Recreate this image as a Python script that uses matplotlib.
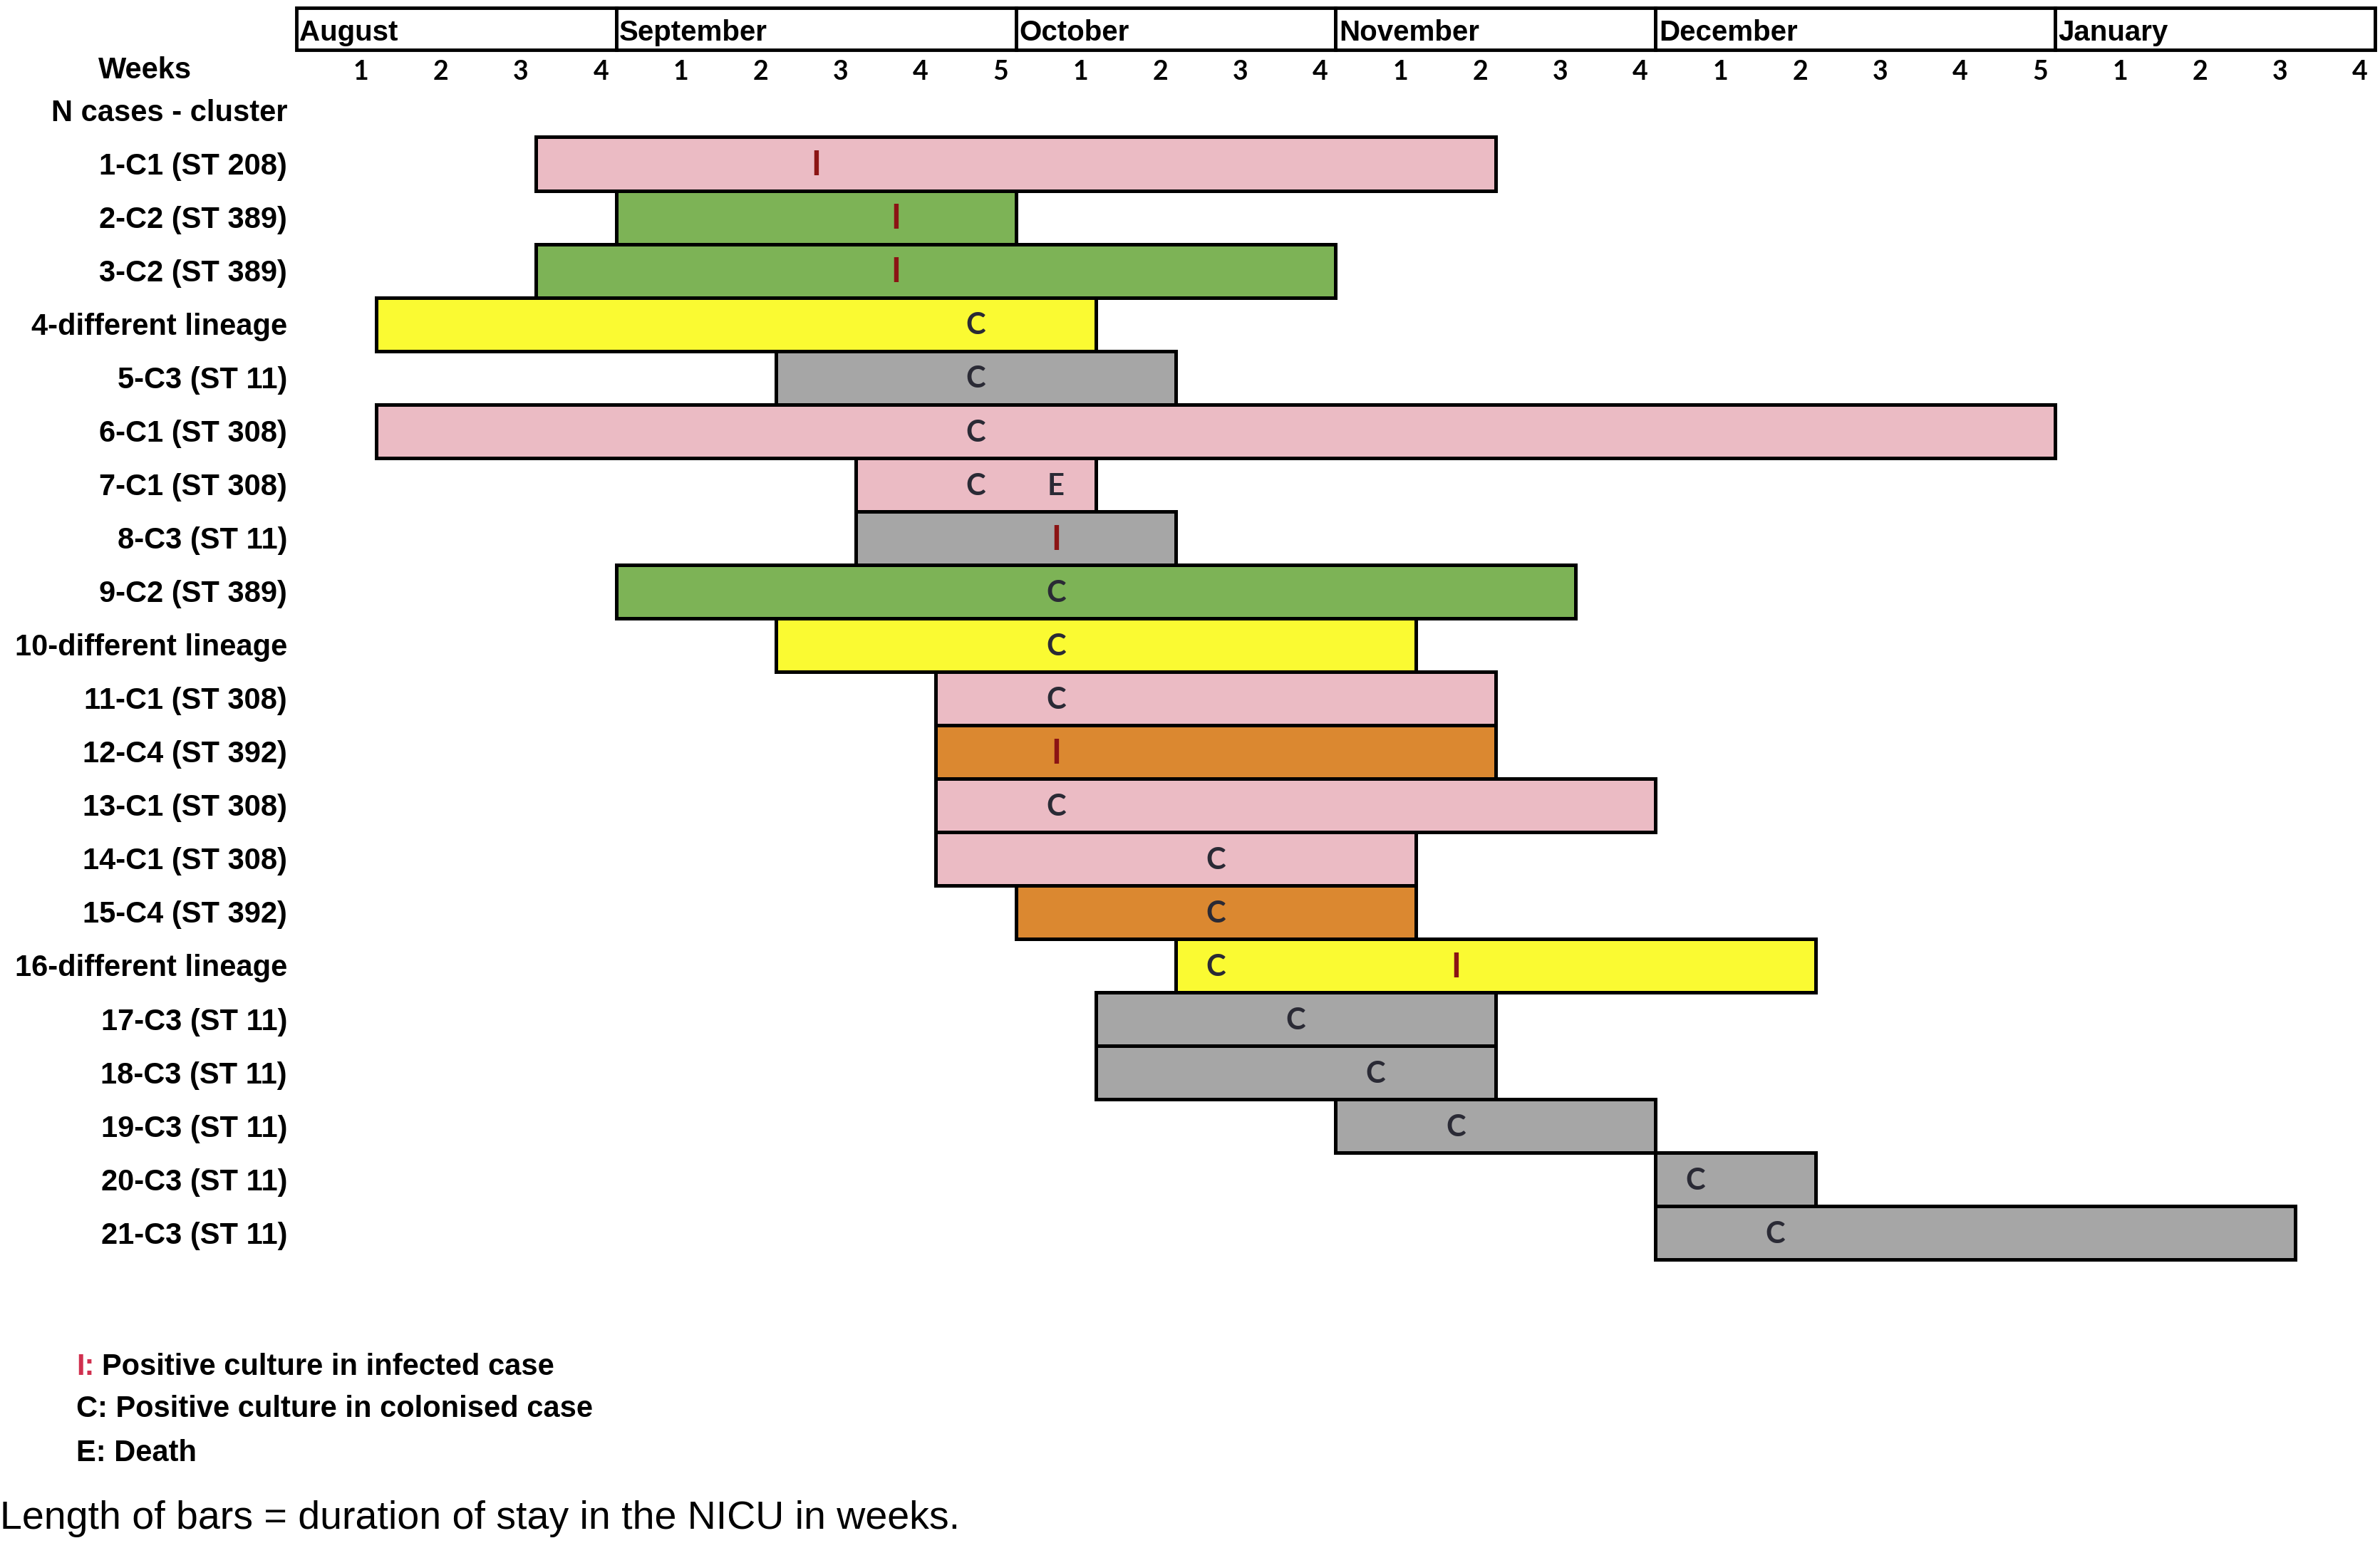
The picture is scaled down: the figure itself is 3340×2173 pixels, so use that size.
import matplotlib
matplotlib.use('Agg')
import matplotlib.pyplot as plt
from matplotlib.patches import Rectangle

plt.rcParams['font.family'] = ['Liberation Sans', 'DejaVu Sans']

# --- data ---
months = ["August", "September", "October", "November", "December", "January"]
weeks_per_month = [4, 5, 4, 4, 5, 4]

cases = ["1-C1 (ST 208)", "2-C2 (ST 389)", "3-C2 (ST 389)", "4-different lineage",
         "5-C3 (ST 11)", "6-C1 (ST 308)", "7-C1 (ST 308)", "8-C3 (ST 11)",
         "9-C2 (ST 389)", "10-different lineage", "11-C1 (ST 308)", "12-C4 (ST 392)",
         "13-C1 (ST 308)", "14-C1 (ST 308)", "15-C4 (ST 392)", "16-different lineage",
         "17-C3 (ST 11)", "18-C3 (ST 11)", "19-C3 (ST 11)", "20-C3 (ST 11)",
         "21-C3 (ST 11)"]
# start / end in weeks counted from first week of August (0-based)
start_week = [3, 4, 3, 1, 6, 1, 7, 7, 4, 6, 8, 8, 8, 8, 9, 11, 10, 10, 13, 17, 17]
end_week = [15, 9, 13, 10, 11, 22, 10, 11, 16, 14, 15, 15, 17, 14, 14, 19, 15, 15, 17, 19, 25]
cluster = ["C1", "C2", "C2", "diff", "C3", "C1", "C1", "C3", "C2", "diff", "C1", "C4",
           "C1", "C1", "C4", "diff", "C3", "C3", "C3", "C3", "C3"]
# events: (case index, week position, letter)
events = [(0, 6.5, "I"), (1, 7.5, "I"), (2, 7.5, "I"), (3, 8.5, "C"), (4, 8.5, "C"),
          (5, 8.5, "C"), (6, 8.5, "C"), (6, 9.5, "E"), (7, 9.5, "I"), (8, 9.5, "C"),
          (9, 9.5, "C"), (10, 9.5, "C"), (11, 9.5, "I"), (12, 9.5, "C"), (13, 11.5, "C"),
          (14, 11.5, "C"), (15, 11.5, "C"), (15, 14.5, "I"), (16, 12.5, "C"),
          (17, 13.5, "C"), (18, 14.5, "C"), (19, 17.5, "C"), (20, 18.5, "C")]

colors = {"C1": "#EBBBC4", "C2": "#7DB356", "C3": "#A6A6A6", "C4": "#DB8830",
          "diff": "#FAFA32"}
event_colors = {"I": "#8B1414", "C": "#2A2A35", "E": "#2A2A35"}
event_sizes = {"I": 34, "C": 30, "E": 30}

W, H = 3341, 2173
fig = plt.figure(figsize=(W / 100, H / 100), dpi=100)
ax = fig.add_axes([0, 0, 1, 1])
ax.set_xlim(-3.706, 26.07)
ax.set_ylim(26.89, -2.065)
ax.axis('off')

# month header boxes and week numbers
pos = 0
for m, n in zip(months, weeks_per_month):
    ax.add_patch(Rectangle((pos, -1.922), n, 0.79, facecolor='white',
                           edgecolor='black', lw=3.5, zorder=2))
    ax.text(pos + 0.04, -1.45, m, ha='left', va='center', fontsize=29,
            fontweight='bold', zorder=3)
    for k in range(n):
        ax.text(pos + k + 0.81, -0.72, str(k + 1), ha='center', va='center',
                fontsize=27, fontweight='bold', family=['Lato', 'DejaVu Sans'])
    pos += n

ax.text(-1.89, -0.74, "Weeks", ha='center', va='center', fontsize=30, fontweight='bold')
ax.text(-0.114, 0.05, "N cases - cluster", ha='right', va='center', fontsize=30,
        fontweight='bold')

# bars
for i, (name, s, e, c) in enumerate(zip(cases, start_week, end_week, cluster)):
    y = i + 1
    ax.barh(y, e - s, left=s, height=1.0, color=colors[c], edgecolor='black',
            linewidth=3.6, zorder=2)
    ax.text(-0.114, y + 0.05, name, ha='right', va='center', fontsize=30,
            fontweight='bold')

for i, x, letter in events:
    ax.text(x, i + 1.03, letter, ha='center', va='center',
            fontsize=event_sizes[letter], fontweight='bold',
            color=event_colors[letter], family=['Lato', 'DejaVu Sans'], zorder=4)

# legend text
def fx(px):
    return px / W

def fy(px):
    return 1 - px / H

fig.text(fx(107), fy(1919), "I:", ha='left', va='center', fontsize=30,
         fontweight='bold', color='#D0304F')
fig.text(fx(143), fy(1919), "Positive culture in infected case", ha='left', va='center',
         fontsize=30, fontweight='bold')
fig.text(fx(107), fy(1978), "C: Positive culture in colonised case", ha='left',
         va='center', fontsize=30, fontweight='bold')
fig.text(fx(107), fy(2040), "E: Death", ha='left', va='center', fontsize=30,
         fontweight='bold')
fig.text(fx(0), fy(2132), "Length of bars = duration of stay in the NICU in weeks.",
         ha='left', va='center', fontsize=40)

fig.savefig("out.png", dpi=100)
